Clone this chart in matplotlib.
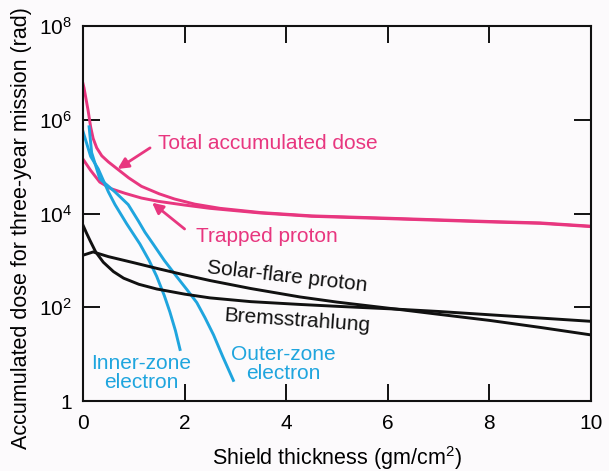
import numpy as np
import matplotlib
matplotlib.use("Agg")
import matplotlib.pyplot as plt

plt.rcParams['font.family'] = ['Liberation Sans', 'DejaVu Sans']
plt.rcParams['mathtext.default'] = 'regular'

pink = '#e8367f'
blue = '#1fa5de'
bg = '#fcfafc'

# curves: thickness (gm/cm2), log10 dose (rad)
total_x = [0, 0.02, 0.05, 0.1, 0.15, 0.2, 0.27, 0.37, 0.5, 0.7, 0.9, 1.15, 1.5, 1.8, 2.2, 2.7, 3.5, 4.5, 6.0, 8.0, 9.0, 10.0]
total_y = [6.77, 6.68, 6.5, 6.2, 5.85, 5.6, 5.4, 5.23, 5.1, 4.93, 4.76, 4.58, 4.42, 4.31, 4.2, 4.11, 4.02, 3.95, 3.90, 3.83, 3.80, 3.73]

trapped_x = [0, 0.15, 0.33, 0.55, 0.83, 1.15, 1.48, 2.0, 2.5, 3.5, 4.5, 6.0, 8.0, 9.0, 10.0]
trapped_y = [5.16, 4.92, 4.67, 4.53, 4.43, 4.33, 4.26, 4.18, 4.11, 4.01, 3.94, 3.89, 3.82, 3.79, 3.72]

inner_x = [0, 0.15, 0.3, 0.5, 0.63, 0.86, 1.12, 1.3, 1.45, 1.6, 1.71, 1.82, 1.91]
inner_y = [5.75, 5.22, 4.95, 4.46, 4.19, 3.78, 3.35, 3.0, 2.66, 2.25, 1.9, 1.5, 1.10]

outer_x = [0.12, 0.17, 0.33, 0.63, 0.89, 1.09, 1.22, 1.38, 1.6, 1.84, 2.05, 2.24, 2.4, 2.57, 2.75, 2.96]
outer_y = [5.85, 5.3, 4.74, 4.46, 4.19, 3.84, 3.6, 3.35, 3.0, 2.66, 2.37, 2.10, 1.78, 1.41, 0.95, 0.44]

solar_x = [0, 0.2, 0.5, 1.0, 1.45, 2.0, 2.5, 3.3, 4.27, 5.0, 6.17, 7.0, 8.0, 9.0, 10.0]
solar_y = [3.11, 3.18, 3.08, 2.95, 2.83, 2.69, 2.57, 2.40, 2.22, 2.11, 1.96, 1.85, 1.72, 1.57, 1.41]

brems_x = [0, 0.07, 0.14, 0.25, 0.4, 0.6, 0.8, 1.1, 1.45, 2.0, 2.5, 3.3, 4.27, 5.0, 6.17, 7.0, 8.0, 9.0, 10.0]
brems_y = [3.75, 3.58, 3.42, 3.18, 2.96, 2.76, 2.62, 2.49, 2.39, 2.28, 2.20, 2.12, 2.06, 2.02, 1.96, 1.91, 1.84, 1.77, 1.70]

xticks = [0, 2, 4, 6, 8, 10]
yticks = [1, 1e2, 1e4, 1e6, 1e8]
ytick_labels = ['1', '$10^2$', '$10^4$', '$10^6$', '$10^8$']

fig = plt.figure(figsize=(6.09, 4.71), dpi=100, facecolor=bg)
ax = fig.add_axes([0.1363, 0.1486, 0.8341, 0.7962], facecolor=bg)

lw = 2.1
ax.plot(total_x, 10 ** np.array(total_y), color=pink, lw=lw)
ax.plot(trapped_x, 10 ** np.array(trapped_y), color=pink, lw=lw)
ax.plot(inner_x, 10 ** np.array(inner_y), color=blue, lw=lw)
ax.plot(outer_x, 10 ** np.array(outer_y), color=blue, lw=lw)
ax.plot(solar_x, 10 ** np.array(solar_y), color='#111111', lw=lw)
ax.plot(brems_x, 10 ** np.array(brems_y), color='#111111', lw=lw)

ax.set_yscale('log')
ax.set_xlim(0, 10)
ax.set_ylim(1, 1e8)
ax.set_xticks(xticks)
ax.set_yticks(yticks)
ax.set_yticklabels(ytick_labels)
ax.yaxis.set_minor_locator(matplotlib.ticker.NullLocator())
ax.tick_params(direction='in', length=12, width=1.4, labelsize=15,
               top=True, right=True, color='#111111')
ax.tick_params(axis='x', pad=9)
ax.tick_params(axis='y', pad=8)
for s in ax.spines.values():
    s.set_linewidth(1.5)
    s.set_color('#111111')

ax.set_xlabel('Shield thickness (gm/cm$^2$)', fontsize=15.5)
ax.set_ylabel('Accumulated dose for three-year mission (rad)', fontsize=15.5)
ax.xaxis.set_label_coords(0.5, -0.115)
ax.yaxis.set_label_coords(-0.1, 0.46)

arrow = dict(arrowstyle='-|>', color=pink, lw=2, mutation_scale=16, shrinkA=0, shrinkB=0)
ax.text(1.48, 10 ** 5.5, 'Total accumulated dose', color=pink, fontsize=15, va='center', ha='left')
ax.annotate('', xy=(0.68, 10 ** 4.95), xytext=(1.32, 10 ** 5.40), arrowprops=arrow)
ax.annotate('', xy=(1.36, 10 ** 4.23), xytext=(2.0, 10 ** 3.67), arrowprops=arrow)
ax.text(2.22, 10 ** 3.52, 'Trapped proton', color=pink, fontsize=15, va='center', ha='left')

ax.text(4.01, 10 ** 2.66, 'Solar-flare proton', color='#111111', fontsize=15,
        va='center', ha='center', rotation=-6.5, rotation_mode='anchor')
ax.text(4.21, 10 ** 1.72, 'Bremsstrahlung', color='#111111', fontsize=15,
        va='center', ha='center', rotation=-4, rotation_mode='anchor')

ax.text(1.14, 10 ** 0.60, 'Inner-zone\nelectron', color=blue, fontsize=15,
        va='center', ha='center', linespacing=1.0)
ax.text(3.94, 10 ** 0.79, 'Outer-zone\nelectron', color=blue, fontsize=15,
        va='center', ha='center', linespacing=1.0)

fig.savefig('out.png', dpi=100, facecolor=bg)
